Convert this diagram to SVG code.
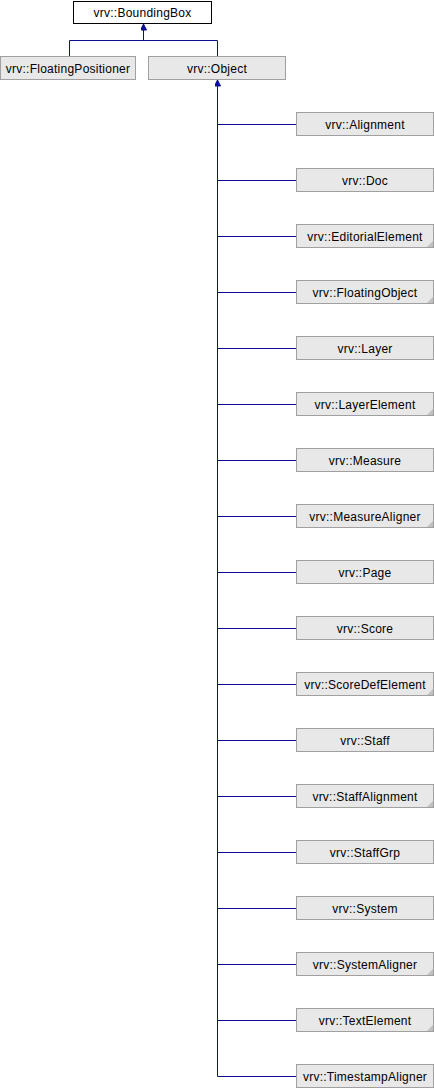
<svg xmlns="http://www.w3.org/2000/svg" width="434" height="1088" viewBox="0 0 434 1088">
<style>
.n rect{fill:#e8e8e8;stroke:#a0a0a0;stroke-width:1}
.w rect{fill:#ffffff;stroke:#000000;stroke-width:1}
text{font-family:"Liberation Sans",Arial,sans-serif;font-size:12px;letter-spacing:0.25px;fill:#000;text-anchor:middle}
.c path{fill:none;stroke:#0c0c94;stroke-width:1}
.corner{fill:#c0c0c0}
</style>
<defs>
<marker id="a" markerWidth="6" markerHeight="8" refX="3" refY="1" orient="0" markerUnits="userSpaceOnUse" viewBox="0 0 6 8">
<path d="M0,7 L3,1 L6,7 Z" fill="#0c0c94" stroke="#0c0c94" stroke-width="1"/>
</marker>
<path id="tri" d="M0,0 L-6,6 L0,6 Z" class="corner"/>
</defs>
<rect width="434" height="1088" fill="#fff"/>
<g class="c">
<path d="M143.5,24 V40.5 M69.5,56 V40.5 H217.5 V56" marker-start="url(#a)"/>
<path d="M217.5,80 V1076.5 H296" marker-start="url(#a)"/>
<path d="M217.5,124.5 H296 M217.5,180.5 H296 M217.5,236.5 H296 M217.5,292.5 H296 M217.5,348.5 H296 M217.5,404.5 H296 M217.5,460.5 H296 M217.5,516.5 H296 M217.5,572.5 H296 M217.5,628.5 H296 M217.5,684.5 H296 M217.5,740.5 H296 M217.5,796.5 H296 M217.5,852.5 H296 M217.5,908.5 H296 M217.5,964.5 H296 M217.5,1020.5 H296"/>
</g>
<g id="BoundingBox" class="w"><rect x="73.5" y="1.5" width="138" height="22"/><text x="142.5" y="17">vrv::BoundingBox</text></g>
<g id="FloatingPositioner" class="n"><rect x="0.5" y="56.5" width="135" height="23"/><text x="68" y="72.5">vrv::FloatingPositioner</text></g>
<g id="Object" class="n"><rect x="148.5" y="56.5" width="137" height="23"/><text x="217" y="72.5">vrv::Object</text></g>
<g id="Alignment" class="n"><rect x="296.5" y="112.5" width="137" height="23"/><text x="365" y="128.5">vrv::Alignment</text></g>
<g id="Doc" class="n"><rect x="296.5" y="168.5" width="137" height="23"/><text x="365" y="184.5">vrv::Doc</text></g>
<g id="EditorialElement" class="n"><rect x="296.5" y="224.5" width="137" height="23"/><text x="365" y="240.5">vrv::EditorialElement</text><use href="#tri" x="433" y="241"/></g>
<g id="FloatingObject" class="n"><rect x="296.5" y="280.5" width="137" height="23"/><text x="365" y="296.5">vrv::FloatingObject</text><use href="#tri" x="433" y="297"/></g>
<g id="Layer" class="n"><rect x="296.5" y="336.5" width="137" height="23"/><text x="365" y="352.5">vrv::Layer</text></g>
<g id="LayerElement" class="n"><rect x="296.5" y="392.5" width="137" height="23"/><text x="365" y="408.5">vrv::LayerElement</text><use href="#tri" x="433" y="409"/></g>
<g id="Measure" class="n"><rect x="296.5" y="448.5" width="137" height="23"/><text x="365" y="464.5">vrv::Measure</text></g>
<g id="MeasureAligner" class="n"><rect x="296.5" y="504.5" width="137" height="23"/><text x="365" y="520.5">vrv::MeasureAligner</text><use href="#tri" x="433" y="521"/></g>
<g id="Page" class="n"><rect x="296.5" y="560.5" width="137" height="23"/><text x="365" y="576.5">vrv::Page</text></g>
<g id="Score" class="n"><rect x="296.5" y="616.5" width="137" height="23"/><text x="365" y="632.5">vrv::Score</text></g>
<g id="ScoreDefElement" class="n"><rect x="296.5" y="672.5" width="137" height="23"/><text x="365" y="688.5">vrv::ScoreDefElement</text><use href="#tri" x="433" y="689"/></g>
<g id="Staff" class="n"><rect x="296.5" y="728.5" width="137" height="23"/><text x="365" y="744.5">vrv::Staff</text></g>
<g id="StaffAlignment" class="n"><rect x="296.5" y="784.5" width="137" height="23"/><text x="365" y="800.5">vrv::StaffAlignment</text><use href="#tri" x="433" y="801"/></g>
<g id="StaffGrp" class="n"><rect x="296.5" y="840.5" width="137" height="23"/><text x="365" y="856.5">vrv::StaffGrp</text></g>
<g id="System" class="n"><rect x="296.5" y="896.5" width="137" height="23"/><text x="365" y="912.5">vrv::System</text></g>
<g id="SystemAligner" class="n"><rect x="296.5" y="952.5" width="137" height="23"/><text x="365" y="968.5">vrv::SystemAligner</text><use href="#tri" x="433" y="969"/></g>
<g id="TextElement" class="n"><rect x="296.5" y="1008.5" width="137" height="23"/><text x="365" y="1024.5">vrv::TextElement</text><use href="#tri" x="433" y="1025"/></g>
<g id="TimestampAligner" class="n"><rect x="296.5" y="1064.5" width="137" height="23"/><text x="365" y="1080.5">vrv::TimestampAligner</text></g>
</svg>
